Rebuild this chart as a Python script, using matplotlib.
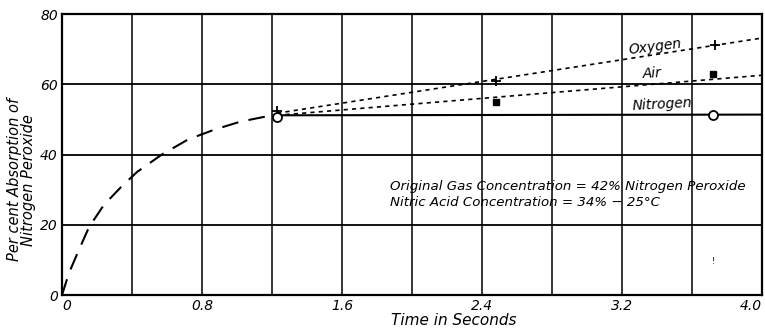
import matplotlib
matplotlib.use("Agg")
import matplotlib.pyplot as plt

# Data
curve_t = [0.0, 0.04, 0.097, 0.155, 0.24, 0.34, 0.43, 0.57, 0.72, 0.87, 1.02, 1.17, 1.23]
curve_v = [0.0, 6.3, 12.9, 19.4, 25.7, 30.9, 35.1, 40.0, 44.3, 47.1, 49.4, 50.9, 51.0]

oxygen_line_t = [1.23, 4.0]
oxygen_line_v = [51.8, 73.2]
air_line_t = [1.23, 4.0]
air_line_v = [51.2, 62.6]
nitrogen_line_t = [1.23, 4.0]
nitrogen_line_v = [51.2, 51.4]

oxygen_pts_t = [1.23, 2.48, 3.73]
oxygen_pts_v = [52.5, 60.9, 71.1]
air_pts_t = [2.48, 3.72]
air_pts_v = [54.9, 62.9]
nitrogen_pts_t = [1.23, 3.72]
nitrogen_pts_v = [50.8, 51.2]

x_ticks = [0, 0.8, 1.6, 2.4, 3.2, 4.0]
x_tick_labels = ["0", "0.8", "1.6", "2.4", "3.2", "4.0"]
x_grid = [0.4, 0.8, 1.2, 1.6, 2.0, 2.4, 2.8, 3.2, 3.6]
y_ticks = [0, 20, 40, 60, 80]
y_tick_labels = ["0", "20", "40", "60", "80"]

FONT = ["DejaVu Sans"]
plt.rcParams["font.family"] = FONT

fig = plt.figure(figsize=(7.65, 3.29), dpi=100)
ax = fig.add_axes([0.081, 0.103, 0.915, 0.854])
ax.set_xlim(0, 4.0)
ax.set_ylim(0, 80)

for xg in x_grid:
    ax.axvline(xg, color="black", lw=1.1, zorder=1)
for yg in y_ticks[1:-1]:
    ax.axhline(yg, color="black", lw=1.3, zorder=1)

for s in ax.spines.values():
    s.set_linewidth(1.6)
    s.set_color("black")

ax.plot(curve_t, curve_v, color="black", lw=1.5, dashes=(8, 5), zorder=3)
ax.plot(oxygen_line_t, oxygen_line_v, color="black", lw=1.2, dashes=(2.5, 2.5), zorder=3)
ax.plot(air_line_t, air_line_v, color="black", lw=1.2, dashes=(2.5, 2.5), zorder=3)
ax.plot(nitrogen_line_t, nitrogen_line_v, color="black", lw=1.5, zorder=3)

ax.plot(oxygen_pts_t, oxygen_pts_v, ls="none", marker="+", ms=7, mew=1.3, color="black", zorder=4)
ax.plot(air_pts_t, air_pts_v, ls="none", marker="s", ms=5, color="black", zorder=4)
ax.plot(nitrogen_pts_t, nitrogen_pts_v, ls="none", marker="o", ms=6.5, mfc="white", mec="black", mew=1.3, zorder=4)

ax.text(3.39, 70.8, "Oxygen", style="italic", fontsize=10, ha="center", va="center", rotation=7)
ax.text(3.37, 63.0, "Air", style="italic", fontsize=10, ha="center", va="center", rotation=3)
ax.text(3.43, 54.3, "Nitrogen", style="italic", fontsize=10, ha="center", va="center", rotation=3)

ax.text(1.875, 31.0, "Original Gas Concentration = 42% Nitrogen Peroxide",
        style="italic", fontsize=9.6, ha="left", va="center")
ax.text(1.875, 26.3, "Nitric Acid Concentration = 34% \u2212 25\u00b0C",
        style="italic", fontsize=9.6, ha="left", va="center")
ax.text(3.72, 9.5, "!", fontsize=6, ha="center", va="center")

ax.set_xticks(x_ticks)
ax.set_xticklabels(x_tick_labels, style="italic", fontsize=10)
ax.set_yticks(y_ticks)
ax.set_yticklabels(y_tick_labels, style="italic", fontsize=10)
ax.tick_params(length=0, pad=3)
xl = ax.get_xticklabels()
xl[0].set_horizontalalignment("left")
xl[-1].set_horizontalalignment("right")

ax.set_xlabel("Time in Seconds", style="italic", fontsize=11, labelpad=0)
ax.xaxis.set_label_coords(0.56, -0.065, transform=ax.transAxes)
ax.xaxis.label.set_va("top")
ax.set_ylabel("Per cent Absorption of\nNitrogen Peroxide", style="italic", fontsize=10.5,
              linespacing=0.95)
ax.yaxis.set_label_coords(-0.058, 0.41, transform=ax.transAxes)
ax.yaxis.label.set_va("center")
ax.yaxis.label.set_ha("center")

fig.savefig("out.png", dpi=100)
